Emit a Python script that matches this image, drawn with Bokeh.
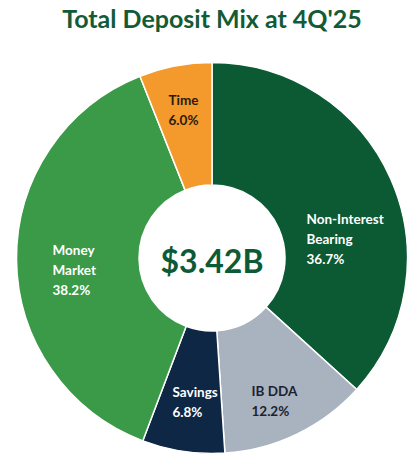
from bokeh.plotting import figure
from bokeh.models import Range1d, ColumnDataSource
from bokeh.core.properties import value
from bokeh.embed import file_html
from bokeh.resources import INLINE
import math

# ---- data ----
categories = ["Non-Interest\nBearing", "IB DDA", "Savings", "Money\nMarket", "Time"]
shares = [36.7, 12.2, 6.8, 38.2, 6.0]
colors = ["#0b5a34", "#a9b3bf", "#0e2745", "#3a9a47", "#f4992c"]
label_colors = ["#ffffff", "#1c2233", "#ffffff", "#ffffff", "#2a1c0c"]
title_text = "Total Deposit Mix at 4Q'25"
total_text = "$3.42B"

# ---- layout (picture pixel coordinates) ----
W, H = 410, 456
cx, cy_pic = 211.5, 257.5
r_out, r_in = 195.5, 73
label_anchor = [(306, 238, "left"), (251, 400.5, "left"), (172, 401, "left"),
                (52, 269, "left"), (183, 109.5, "center")]

def Y(pic_y):
    return H - pic_y

p = figure(width=W, height=H, output_backend="svg", toolbar_location=None,
           x_range=Range1d(0, W), y_range=Range1d(0, H),
           min_border=0)
p.axis.visible = False
p.grid.visible = False
p.outline_line_color = None
p.background_fill_color = "white"
p.border_fill_color = "white"

tot = sum(shares)
starts, ends = [], []
cum = 0.0
for v in shares:
    starts.append(math.pi / 2 - 2 * math.pi * cum / tot)
    cum += v
    ends.append(math.pi / 2 - 2 * math.pi * cum / tot)

src = ColumnDataSource(dict(x=[cx] * len(shares), y=[Y(cy_pic)] * len(shares),
                            start=starts, end=ends, color=colors))
p.annular_wedge(x="x", y="y", inner_radius=r_in, outer_radius=r_out,
                start_angle="start", end_angle="end", direction="clock",
                fill_color="color", line_color="white", line_width=1.5, source=src)

FONT = value("Lato")
for cat, v, col, (lx, ly, al) in zip(categories, shares, label_colors, label_anchor):
    p.text(x=[lx], y=[Y(ly)], text=[f"{cat}\n{v:.1f}%"], text_font=FONT,
           text_font_style="bold", text_font_size="13.5px", text_color=col,
           text_align=al, text_baseline="middle", text_line_height=1.25)

p.text(x=[cx], y=[Y(260)], text=[total_text], text_font=FONT, text_font_style="bold",
       text_font_size="32px", text_color="#0d5a36", text_align="center",
       text_baseline="middle")

p.text(x=[cx], y=[Y(17)], text=[title_text], text_font=FONT, text_font_style="bold",
       text_font_size="25px", text_color="#135a36", text_align="center",
       text_baseline="middle")

open("out.html", "w").write(file_html(p, INLINE))
